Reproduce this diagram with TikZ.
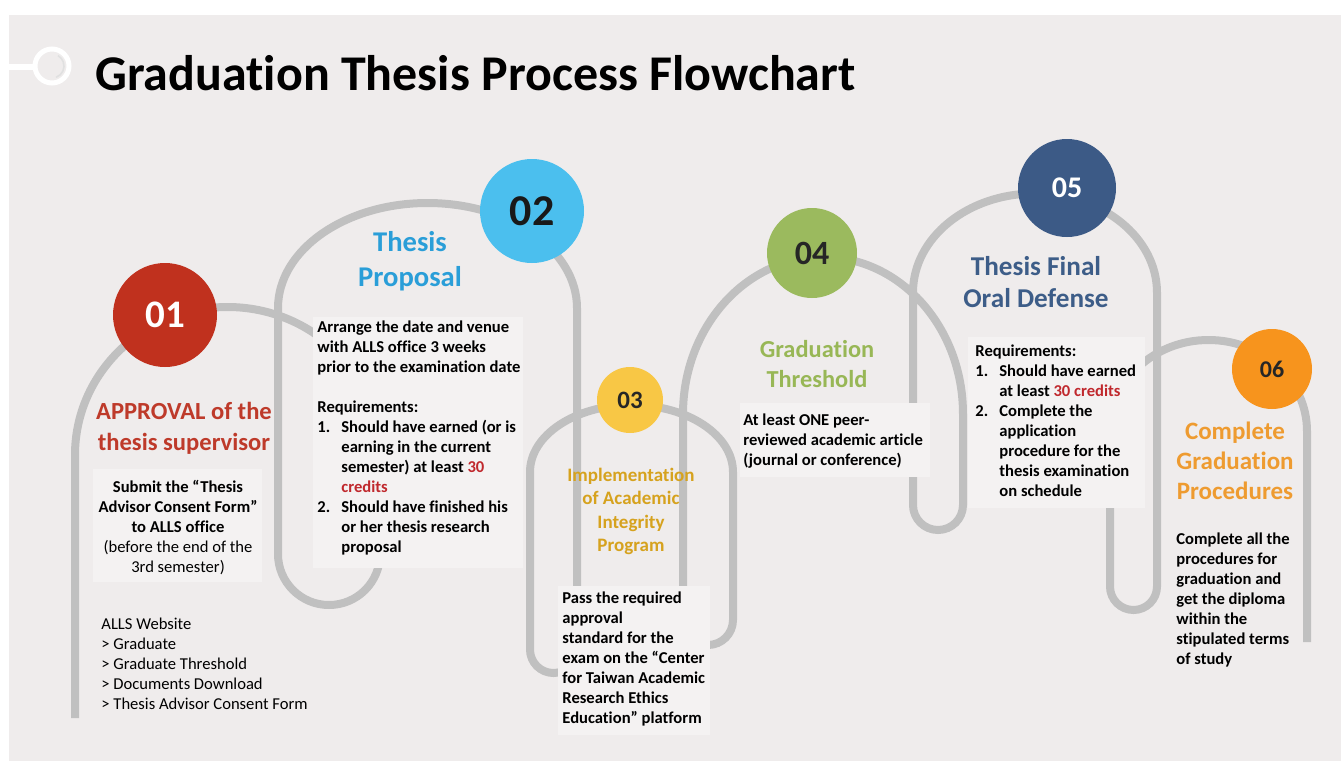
\documentclass[tikz,border=0pt]{standalone}
\usepackage{fontspec}
\setmainfont{Carlito}[Ligatures={NoCommon,NoContextual},Contextuals=NoAlternate]
\usepackage{xcolor}
\usetikzlibrary{positioning}

\definecolor{slide}{HTML}{EFECEC}
\definecolor{panel}{HTML}{F4F2F2}
\definecolor{track}{HTML}{C0C0C0}
\definecolor{red01}{HTML}{C0311E}
\definecolor{blue02}{HTML}{4BBFEE}
\definecolor{yel03}{HTML}{F8C745}
\definecolor{grn04}{HTML}{9BBA5E}
\definecolor{nav05}{HTML}{3C5A86}
\definecolor{org06}{HTML}{F7941D}
\definecolor{hl}{HTML}{C0282D}
\definecolor{t01}{HTML}{BE3A2A}
\definecolor{t02}{HTML}{2A9ED8}
\definecolor{t03}{HTML}{D6A21E}
\definecolor{t04}{HTML}{98B756}
\definecolor{t05}{HTML}{3D5D88}
\definecolor{t06}{HTML}{EE9B30}

\newcommand{\bodytxt}{\fontsize{8.3}{10}\selectfont\bfseries}
\newcommand{\numitem}[1]{\makebox[12pt][l]{#1}}
\newcommand{\ind}{\hspace*{12pt}}

\begin{document}
\begin{tikzpicture}[x=0.5pt,y=-0.5pt,
  stepdot/.style={circle,inner sep=0pt},
  heading/.style={inner sep=0pt,align=center,anchor=north},
  body/.style={inner sep=0pt,align=left,anchor=north west,font=\bodytxt}]
\useasboundingbox (0,0) rectangle (1341,761);
\fill[white] (0,0) rectangle (1341,761);
\fill[slide] (9,15) rectangle (1341,761);

\draw[white,line width=3pt] (9,67) -- (35,67);
\draw[white,line width=2.5pt] (52,66) circle[radius=8.5pt];
\draw[black!12,line width=0.8pt] (52,66) ++(-70:6pt) arc[start angle=-70,end angle=60,radius=6pt];
\node[anchor=base west,inner sep=0pt,font=\fontsize{25}{30}\selectfont\bfseries] (title) at (95,90) {Graduation Thesis Process Flowchart};

% the grey track
\draw[track,line width=4pt] (75,718) -- (75,455)
  arc[start angle=180,end angle=0,x radius=76.25pt,y radius=74pt] -- (380,554)
  arc[start angle=0,end angle=-180,radius=25.5pt] -- (278,308)
  arc[start angle=180,end angle=0,x radius=74.75pt,y radius=52.5pt] -- (577,649.5)
  arc[start angle=0,end angle=-180,radius=11.75pt] -- (530,472)
  arc[start angle=180,end angle=0,x radius=50.75pt,y radius=33.5pt] -- (733,620)
  arc[start angle=0,end angle=-180,radius=12.5pt] -- (683,414)
  arc[start angle=180,end angle=0,x radius=70pt,y radius=78.5pt] -- (963,505)
  arc[start angle=0,end angle=-180,radius=12.5pt] -- (913,292.5)
  arc[start angle=180,end angle=0,x radius=61pt,y radius=49.5pt] -- (1157,586.5)
  arc[start angle=0,end angle=-180,radius=11.75pt] -- (1110,431)
  arc[start angle=180,end angle=0,x radius=49.25pt,y radius=45.5pt] -- (1307,642);

\fill[panel] (93,469) rectangle (262,582);
\fill[panel] (313,317) rectangle (523,568);
\fill[panel] (558,586) rectangle (710,735);
\fill[panel] (740,403) rectangle (930,477);
\fill[panel] (968,337) rectangle (1145,508);

\node[stepdot,fill=red01,minimum size=52pt,text=white,font=\fontsize{19.5}{20}\selectfont\bfseries] (c1) at (165,315) {01};
\node[stepdot,fill=blue02,minimum size=52pt,text=black!90,font=\fontsize{22}{22}\selectfont\bfseries] (c2) at (532,211) {02};
\node[stepdot,fill=yel03,minimum size=33pt,text=black!85,font=\fontsize{12.5}{13}\selectfont\bfseries] (c3) at (630,400) {03};
\node[stepdot,fill=grn04,minimum size=45pt,text=black!85,font=\fontsize{17}{17}\selectfont\bfseries] (c4) at (812,253) {04};
\node[stepdot,fill=nav05,minimum size=49pt,text=white,font=\fontsize{15}{15}\selectfont\bfseries] (c5) at (1067,188) {05};
\node[stepdot,fill=org06,minimum size=40pt,text=black!85,font=\fontsize{12}{12}\selectfont\bfseries] (c6) at (1272,369) {06};

\node[heading,text=t01,font=\fontsize{12.3}{15.5}\selectfont\bfseries] (h1) at (184,402) {APPROVAL of the\\thesis supervisor};
\node[heading,text=t02,font=\fontsize{14.3}{17.5}\selectfont\bfseries] (h2) at (410,231) {Thesis\\Proposal};
\node[heading,text=t03,font=\fontsize{9.5}{11.6}\selectfont\bfseries] (h3) at (631,468) {Implementation\\of Academic\\Integrity\\Program};
\node[heading,text=t04,font=\fontsize{12.2}{14.8}\selectfont\bfseries] (h4) at (817,340) {Graduation\\Threshold};
\node[heading,text=t05,font=\fontsize{13.6}{16.2}\selectfont\bfseries] (h5) at (1036,256) {Thesis Final\\Oral Defense};
\node[heading,text=t06,font=\fontsize{12.5}{14.9}\selectfont\bfseries] (h6) at (1235,422) {Complete\\Graduation\\Procedures};

\node[body,align=center,anchor=north] (b1) at (178,480) {Submit the “Thesis\\Advisor Consent Form”\\to ALLS office\\\mdseries(before the end of the\\\mdseries 3rd semester)};
\node[body,font=\fontsize{8.3}{10}\selectfont] (w1) at (101,618) {ALLS Website\\> Graduate\\> Graduate Threshold\\> Documents Download\\> Thesis Advisor Consent Form};
\node[body] (b2) at (317,320) {Arrange the date and venue\\with ALLS office 3 weeks\\prior to the examination date\\[10pt]Requirements:\\\numitem{1.}Should have earned (or is\\\ind earning in the current\\\ind semester) at least \textcolor{hl}{30}\\\ind\textcolor{hl}{credits}\\\numitem{2.}Should have finished his\\\ind or her thesis research\\\ind proposal};
\node[body] (b3) at (562,591) {Pass the required\\approval\\standard for the\\exam on the “Center\\for Taiwan Academic\\Research Ethics\\Education” platform};
\node[body] (b4) at (743,413) {At least ONE peer-\\reviewed academic article\\(journal or conference)};
\node[body] (b5) at (975,344) {Requirements:\\\numitem{1.}Should have earned\\\ind at least \textcolor{hl}{30 credits}\\\numitem{2.}Complete the\\\ind application\\\ind procedure for the\\\ind thesis examination\\\ind on schedule};
\node[body] (b6) at (1176,532) {Complete all the\\procedures for\\graduation and\\get the diploma\\within the\\stipulated terms\\of study};
\end{tikzpicture}
\end{document}
